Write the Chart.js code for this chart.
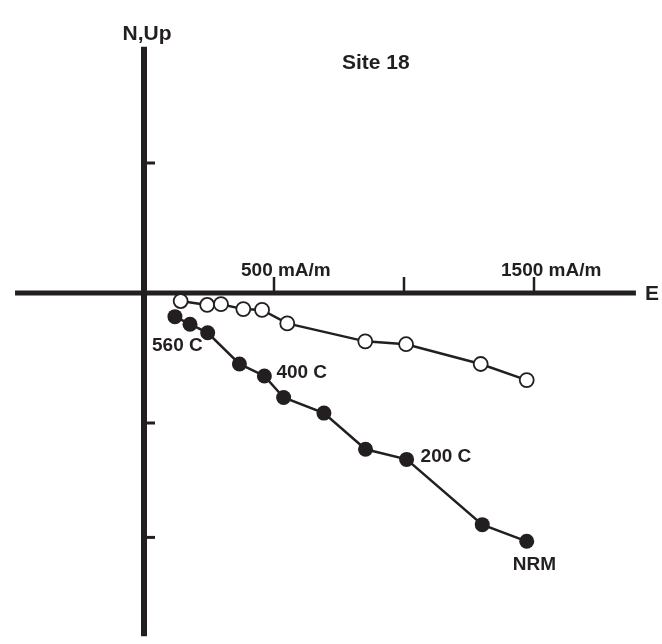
<!DOCTYPE html>
<html>
<head>
<meta charset="utf-8">
<script src="https://cdn.jsdelivr.net/npm/chart.js@4"></script>
<style>
  html, body { margin: 0; padding: 0; background: #fff; }
</style>
</head>
<body>
<canvas id="zij" width="662" height="644"></canvas>
<script>
// Horizontal projection (open circles): East vs North, mA/m
const horizEast  = [141, 243, 296, 382, 454, 551, 851, 1008, 1295, 1472];
const horizNorth = [-31, -46, -43, -62, -65, -117, -186, -197, -273, -335];
// Vertical projection (filled circles): East vs Up, mA/m
const vertEast = [119, 177, 245, 367, 463, 537, 692, 852, 1010, 1301, 1472];
const vertUp   = [-91, -120, -153, -273, -319, -402, -462, -601, -640, -891, -955];
// demag step labels and the filled point each one belongs to
const stepLabels = ["560 C", "400 C", "200 C", "NRM"];
const stepIndex  = [1, 4, 8, 10];
// axis ticks
const xTicks = [500, 1000, 1500];
const xTickLabels = ["500 mA/m", "", "1500 mA/m"];
const yTicks = [500, -500, -940];

const ink = "#231f20";
const FONT = "'Liberation Sans', Arial, Helvetica, sans-serif";

// label offsets from their point, in px
const stepOffsets = [[-38, 27], [12, 2], [14, 3], [-14, 29]];

const axesPlugin = {
  id: "zijAxes",
  beforeDatasetsDraw(chart) {
    const ctx = chart.ctx;
    const xs = chart.scales.x, ys = chart.scales.y;
    const x0 = xs.getPixelForValue(0), y0 = ys.getPixelForValue(0);
    ctx.save();
    ctx.strokeStyle = ink;
    ctx.lineCap = "butt";

    // E axis
    ctx.lineWidth = 5;
    ctx.beginPath();
    ctx.moveTo(xs.getPixelForValue(-496), y0);
    ctx.lineTo(xs.getPixelForValue(1892), y0);
    ctx.stroke();

    // N,Up axis
    ctx.lineWidth = 6;
    ctx.beginPath();
    ctx.moveTo(x0, ys.getPixelForValue(947));
    ctx.lineTo(x0, ys.getPixelForValue(-1320));
    ctx.stroke();

    // ticks
    ctx.lineWidth = 2.5;
    xTicks.forEach(v => {
      const px = xs.getPixelForValue(v);
      ctx.beginPath();
      ctx.moveTo(px, y0 - 2);
      ctx.lineTo(px, y0 - 16);
      ctx.stroke();
    });
    ctx.lineWidth = 3;
    yTicks.forEach(v => {
      const py = ys.getPixelForValue(v);
      ctx.beginPath();
      ctx.moveTo(x0 + 3, py);
      ctx.lineTo(x0 + 11, py);
      ctx.stroke();
    });

    // text
    ctx.fillStyle = ink;
    ctx.textBaseline = "alphabetic";
    ctx.font = "bold 19px " + FONT;
    ctx.textAlign = "left";
    xTicks.forEach((v, i) => {
      if (!xTickLabels[i]) return;
      ctx.fillText(xTickLabels[i], xs.getPixelForValue(v) - 33, y0 - 17);
    });

    ctx.font = "bold 21px " + FONT;
    ctx.textAlign = "center";
    ctx.fillText("N,Up", x0 + 3, 40);
    ctx.textAlign = "left";
    ctx.fillText("Site 18", 342, 69);
    ctx.fillText("E", 645, y0 + 7);
    ctx.restore();
  },
  afterDraw(chart) {
    const ctx = chart.ctx;
    const meta = chart.getDatasetMeta(1);
    ctx.save();
    ctx.fillStyle = ink;
    ctx.font = "bold 19px " + FONT;
    ctx.textAlign = "left";
    ctx.textBaseline = "alphabetic";
    stepLabels.forEach((t, i) => {
      const pt = meta.data[stepIndex[i]];
      ctx.fillText(t, pt.x + stepOffsets[i][0], pt.y + stepOffsets[i][1]);
    });
    ctx.restore();
  }
};

new Chart(document.getElementById("zij").getContext("2d"), {
  type: "scatter",
  data: {
    datasets: [
      {
        label: "Horizontal",
        data: horizEast.map((e, i) => ({ x: e, y: horizNorth[i] })),
        showLine: true,
        borderColor: ink,
        borderWidth: 2.5,
        pointRadius: 7,
        pointBackgroundColor: "#fff",
        pointBorderColor: ink,
        pointBorderWidth: 1.8,
        clip: false
      },
      {
        label: "Vertical",
        data: vertEast.map((e, i) => ({ x: e, y: vertUp[i] })),
        showLine: true,
        borderColor: ink,
        borderWidth: 2.5,
        pointRadius: 7.5,
        pointBackgroundColor: ink,
        pointBorderColor: ink,
        pointBorderWidth: 0,
        clip: false
      }
    ]
  },
  options: {
    responsive: false,
    animation: false,
    devicePixelRatio: 1,
    layout: { padding: 0, autoPadding: false },
    plugins: { legend: { display: false }, tooltip: { enabled: false } },
    scales: {
      x: { type: "linear", display: false, min: -553.85, max: 1992.3 },
      y: { type: "linear", display: false, min: -1350, max: 1126.9 }
    }
  },
  plugins: [axesPlugin]
});
</script>
</body>
</html>
